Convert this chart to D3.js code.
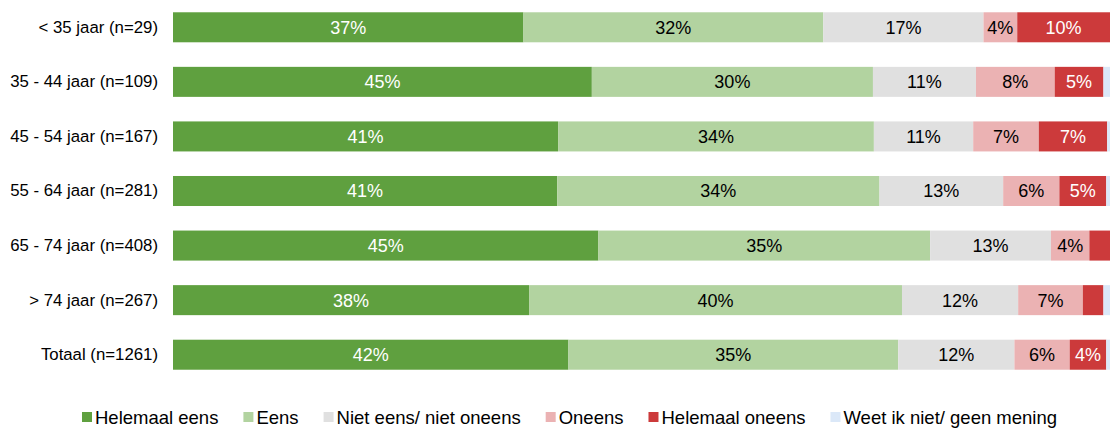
<!DOCTYPE html>
<html><head><meta charset="utf-8">
<script src="https://cdn.jsdelivr.net/npm/d3@7"></script>
<style>body{margin:0;background:#fff;} text{font-family:"Liberation Sans",Arial,sans-serif;}</style>
</head><body>
<svg id="chart" width="1110" height="428"></svg>
<script>
const categories = ["< 35 jaar (n=29)","35 - 44 jaar (n=109)","45 - 54 jaar (n=167)","55 - 64 jaar (n=281)","65 - 74 jaar (n=408)","> 74 jaar (n=267)","Totaal (n=1261)"];
const seriesNames = ["Helemaal eens","Eens","Niet eens/ niet oneens","Oneens","Helemaal oneens","Weet ik niet/ geen mening"];
const helemaalEens = [37.4,44.7,41.1,41.0,45.4,38.0,42.2];
const eens = [32.0,30.0,33.7,34.4,35.4,39.8,35.2];
const nietEens = [17.1,11.0,10.6,13.2,12.9,12.4,12.4];
const oneens = [3.6,8.4,7.0,6.0,4.1,6.9,5.9];
const helemaalOneens = [9.9,5.2,7.3,5.0,2.2,2.2,3.9];
const weetNiet = [0,0.7,0.3,0.4,0,0.7,0.4];
const colors = ["#5fa03f","#b2d3a0","#e0e0e0","#ebb2b3","#cc3a3b","#dbe8f8"];
const labelColors = ["#fff","#000","#000","#000","#fff","#000"];

const seriesValues = [helemaalEens,eens,nietEens,oneens,helemaalOneens,weetNiet];
const rows = categories.map((c,i)=>{const o={cat:c}; seriesNames.forEach((s,j)=>o[s]=seriesValues[j][i]); return o;});
const stack = d3.stack().keys(seriesNames)(rows);

const svg = d3.select("#chart");
const x = d3.scaleLinear().domain([0,100]).range([173,1110]);
const y = d3.scaleBand().domain(categories).range([0,382]).paddingInner(0.45).paddingOuter(0.225);

const g = svg.append("g");
stack.forEach((layer,j)=>{
  const lg = g.append("g");
  lg.selectAll("rect").data(layer).join("rect")
    .attr("x",d=>x(d[0])).attr("width",d=>x(d[1])-x(d[0]))
    .attr("y",d=>y(d.data.cat)).attr("height",y.bandwidth())
    .attr("fill",colors[j]);
  lg.selectAll("text").data(layer.filter(d=>d[1]-d[0]>=3.5)).join("text")
    .attr("x",d=>(x(d[0])+x(d[1]))/2).attr("y",d=>y(d.data.cat)+y.bandwidth()/2)
    .attr("dy","0.36em").attr("text-anchor","middle")
    .attr("font-size","18px").attr("fill",labelColors[j])
    .text(d=>Math.round(d[1]-d[0])+"%");
});

const yAxis = d3.axisLeft(y).tickSize(0).tickPadding(15);
const ax = svg.append("g").attr("transform","translate(173,0)").call(yAxis);
ax.select(".domain").remove();
ax.selectAll("text").attr("font-size","16.8px").attr("fill","#000").attr("font-family","Liberation Sans, Arial, sans-serif");

const leg = svg.append("g").attr("transform","translate(82,417)");
let cx = 0;
seriesNames.forEach((s,j)=>{
  const it = leg.append("g").attr("transform",`translate(${cx},0)`);
  it.append("rect").attr("x",0).attr("y",-5).attr("width",10).attr("height",10).attr("fill",colors[j]);
  const t = it.append("text").attr("x",13).attr("dy","0.36em").attr("font-size","18.5px").attr("fill","#000").text(s);
  cx += 13 + t.node().getComputedTextLength() + 25;
});
</script>
</body></html>
